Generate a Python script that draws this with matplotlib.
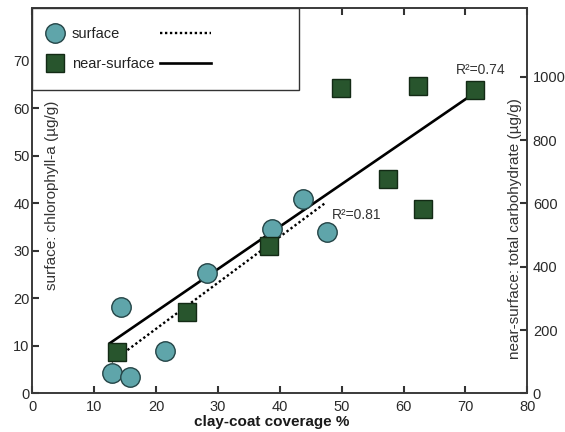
import matplotlib
matplotlib.use('Agg')
import matplotlib.pyplot as plt
from matplotlib.legend_handler import HandlerLine2D

plt.rcParams['font.family'] = ['Liberation Sans', 'DejaVu Sans']

# ---- data ----
surface_x = [12.8, 15.8, 14.4, 21.5, 28.3, 38.7, 43.8, 47.6]
surface_y = [4.3, 3.5, 18.2, 8.9, 25.3, 34.5, 40.8, 33.9]
near_x = [13.7, 25.0, 38.2, 49.9, 62.3, 71.6, 57.5, 63.1]
near_y = [130, 256, 467, 965, 970, 958, 677, 583]
fit_surface_x = [12.8, 47.2]
fit_surface_y = [6.6, 39.9]
fit_near_x = [12.5, 71.6]
fit_near_y = [158, 951]
x_ticks = [0, 10, 20, 30, 40, 50, 60, 70, 80]
left_ticks = [0, 10, 20, 30, 40, 50, 60, 70]
right_ticks = [0, 200, 400, 600, 800, 1000]
r2_surface = 'R²=0.81'
r2_near = 'R²=0.74'


class LongLine(HandlerLine2D):
    def __init__(self, factor, **kw):
        super().__init__(**kw)
        self.factor = factor

    def create_artists(self, legend, orig_handle, xdescent, ydescent,
                       width, height, fontsize, trans):
        return super().create_artists(legend, orig_handle, xdescent, ydescent,
                                      width * self.factor, height, fontsize, trans)


fig = plt.figure(figsize=(5.65, 4.32), dpi=100)
ax = fig.add_axes([0.0572, 0.0896, 0.8761, 0.8912])
ax2 = ax.twinx()

dot_line, = ax.plot(fit_surface_x, fit_surface_y, color='black', lw=1.7,
                    ls=(0, (1, 1.1)), zorder=2)
solid_line, = ax.plot(fit_near_x, fit_near_y, color='black', lw=1.9,
                      transform=ax2.transData, zorder=2)
circles, = ax.plot(surface_x, surface_y, ls='none', marker='o', ms=14,
                   mfc='#5fa5aa', mec='#244446', mew=1.0, zorder=3)
squares, = ax2.plot(near_x, near_y, ls='none', marker='s', ms=12.8,
                    mfc='#28552d', mec='#132a15', mew=1.0, zorder=3)

ax.set_xlim(0, 80)
ax.set_ylim(0, 81)
ax2.set_ylim(0, 1217)

ax.set_xticks(x_ticks)
ax.set_yticks(left_ticks)
ax2.set_yticks(right_ticks)

tc = '#2a2a2a'
ax.tick_params(axis='x', direction='in', top=True, length=5, width=1.5,
               pad=5, labelsize=10.5, labelcolor=tc, color='#333')
ax.tick_params(axis='y', direction='in', right=False, length=5, width=1.5,
               pad=2, labelsize=10.5, labelcolor=tc, color='#333')
ax2.tick_params(axis='y', direction='in', length=5, width=1.5,
                pad=4, labelsize=10.5, labelcolor=tc, color='#333')

for a in (ax, ax2):
    for s in a.spines.values():
        s.set_color('#3a3a3a')
        s.set_linewidth(1.2)

ax.set_xlabel('clay-coat coverage %', fontsize=11, fontweight='bold',
              color='#1a1a1a', va='center')
ax.xaxis.set_label_coords(0.484, -0.074)
ax.set_ylabel('surface: chlorophyll-a (µg/g)', fontsize=11, color='#333',
              va='center')
ax.yaxis.set_label_coords(0.039, 0.515)
ax2.set_ylabel('near-surface: total carbohydrate (µg/g)', fontsize=11,
               color='#333', va='center')
ax2.yaxis.set_label_coords(0.975, 0.429)

ax.text(48.4, 37.5, r2_surface, fontsize=10, color='#333', va='center')
ax.text(68.4, 68.1, r2_near, fontsize=10, color='#333', va='center')

leg = ax2.legend([circles, squares, dot_line, solid_line],
                 ['surface', 'near-surface', ' ' * 24, ' ' * 24],
                 ncol=2, loc='upper left', bbox_to_anchor=(0, 1),
                 borderaxespad=0, borderpad=1.3, handlelength=0.51,
                 handletextpad=0.91, columnspacing=0.41, labelspacing=1.06,
                 fontsize=10.5, frameon=True, fancybox=False,
                 edgecolor='#333', framealpha=1,
                 handler_map={dot_line: LongLine(6.8), solid_line: LongLine(6.8)})
leg.get_frame().set_linewidth(1.0)
for t in leg.get_texts():
    t.set_color('#222')

fig.savefig('out.png', dpi=100)
